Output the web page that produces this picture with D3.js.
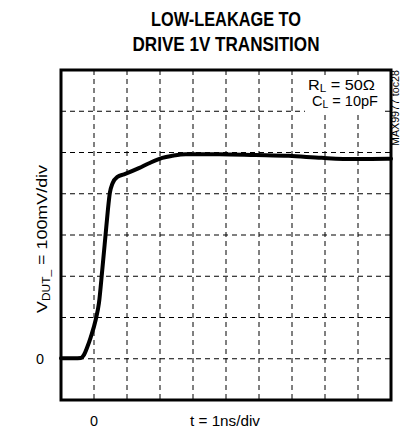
<!DOCTYPE html>
<html>
<head>
<meta charset="utf-8">
<script src="https://cdn.jsdelivr.net/npm/d3@7"></script>
<style>
  body { margin: 0; background: #fff; }
  text { font-family: "Liberation Sans Narrow", "Arial Narrow", "Liberation Sans", sans-serif; fill: #000; }
  .title { font-weight: bold; }
  .grid line { stroke: #000; stroke-width: 1; stroke-dasharray: 5,4; }
  .trace { fill: none; stroke: #000; stroke-width: 4; stroke-linejoin: round; stroke-linecap: round; }
</style>
</head>
<body>
<script>
// Scope settings: 1ns/div horizontally, 100mV/div vertically
var titleLines = ["LOW-LEAKAGE TO", "DRIVE 1V TRANSITION"];
var titleWidths = [150, 187];
var xDomain = [-1, 9];      // ns
var yDomain = [-100, 700];  // mV
var xDivs = 10, yDivs = 8;

// Trace (t in ns, v in mV)
var timeNs = [-1, -0.6, -0.4, -0.3, -0.2, -0.1, 0.05, 0.15, 0.25, 0.35, 0.42, 0.48, 0.56, 0.71, 0.91, 1.36, 1.67, 2.07, 2.37, 2.78, 3.8, 4.9, 5.9, 6.9, 7.9, 8.9, 9];
var voltMv = [1, 1, 2, 10, 29, 52, 94, 135, 215, 300, 360, 402, 425, 441, 447, 462, 474, 487, 492, 496, 496, 494, 492, 487, 484, 485, 485];

var margin = {top: 70, right: 11, bottom: 31, left: 61},
    width = 402 - margin.left - margin.right,
    height = 431 - margin.top - margin.bottom;

var xScale = d3.scaleLinear().domain(xDomain).range([0, width]);
var yScale = d3.scaleLinear().domain(yDomain).range([height, 0]);

var root = d3.select("body").append("svg")
    .attr("width", 402)
    .attr("height", 431);

// Title (condensed bold)
root.selectAll(".title")
    .data(titleLines)
  .enter().append("text")
    .attr("class", "title")
    .attr("x", margin.left + width / 2)
    .attr("y", function(d, i) { return 26 + i * 25; })
    .attr("text-anchor", "middle")
    .attr("font-size", 21)
    .attr("textLength", function(d, i) { return titleWidths[i]; })
    .attr("lengthAdjust", "spacingAndGlyphs")
    .text(function(d) { return d; });

var svg = root.append("g")
    .attr("transform", "translate(" + margin.left + "," + margin.top + ")");

// Dashed grid
var xTicks = d3.range(1, xDivs).map(function(i) { return xDomain[0] + i * (xDomain[1] - xDomain[0]) / xDivs; });
var yTicks = d3.range(1, yDivs).map(function(i) { return yDomain[0] + i * (yDomain[1] - yDomain[0]) / yDivs; });

var grid = svg.append("g").attr("class", "grid");
grid.selectAll(".v")
    .data(xTicks)
  .enter().append("line")
    .attr("x1", function(d) { return xScale(d); })
    .attr("x2", function(d) { return xScale(d); })
    .attr("y1", 0)
    .attr("y2", height);
grid.selectAll(".h")
    .data(yTicks)
  .enter().append("line")
    .attr("x1", 0)
    .attr("x2", width)
    .attr("y1", function(d) { return yScale(d); })
    .attr("y2", function(d) { return yScale(d); });

// Trace
var line = d3.line()
    .curve(d3.curveMonotoneX)
    .x(function(d) { return xScale(d[0]); })
    .y(function(d) { return yScale(d[1]); });

svg.append("path")
    .datum(d3.zip(timeNs, voltMv))
    .attr("class", "trace")
    .attr("d", line);

// Frame
svg.append("rect")
    .attr("width", width)
    .attr("height", height)
    .attr("fill", "none")
    .attr("stroke", "#000")
    .attr("stroke-width", 3);

// Load annotation, white box behind like the scope shot
function subLabel(parent, x, y, main, sub, rest, len) {
  var t = parent.append("text")
      .attr("x", x).attr("y", y)
      .attr("font-size", 14)
      .attr("textLength", len)
      .attr("lengthAdjust", "spacingAndGlyphs");
  t.append("tspan").text(main);
  t.append("tspan").attr("font-size", 10).attr("dy", 2).text(sub);
  t.append("tspan").attr("dy", -2).text(rest);
  return t;
}
svg.append("rect").attr("x", 244).attr("y", 6).attr("width", 76).attr("height", 36).attr("fill", "#fff");
subLabel(svg, 247, 20, "R", "L", " = 50\u03A9", 67);
subLabel(svg, 251, 36, "C", "L", " = 10pF", 66);

// Part number tag
root.append("text")
    .attr("transform", "translate(399," + margin.top + ") rotate(-90)")
    .attr("text-anchor", "end")
    .attr("font-size", 10)
    .attr("textLength", 76)
    .attr("lengthAdjust", "spacingAndGlyphs")
    .text("MAX9977 toc28");

// Axis labels
root.append("text")
    .attr("x", 40)
    .attr("y", margin.top + yScale(0) + 5)
    .attr("text-anchor", "middle")
    .attr("font-size", 15)
    .attr("textLength", 8)
    .attr("lengthAdjust", "spacingAndGlyphs")
    .text("0");

root.append("text")
    .attr("x", margin.left + xScale(0))
    .attr("y", 426)
    .attr("text-anchor", "middle")
    .attr("font-size", 15)
    .attr("textLength", 8)
    .attr("lengthAdjust", "spacingAndGlyphs")
    .text("0");

root.append("text")
    .attr("x", 225)
    .attr("y", 426)
    .attr("text-anchor", "middle")
    .attr("font-size", 15)
    .attr("textLength", 70)
    .attr("lengthAdjust", "spacingAndGlyphs")
    .text("t = 1ns/div");

var yl = root.append("text")
    .attr("transform", "translate(47,239) rotate(-90)")
    .attr("text-anchor", "middle")
    .attr("font-size", 15)
    .attr("textLength", 148)
    .attr("lengthAdjust", "spacingAndGlyphs");
yl.append("tspan").text("V");
yl.append("tspan").attr("font-size", 10).attr("dy", 3).text("DUT_");
yl.append("tspan").attr("dy", -3).text(" = 100mV/div");
</script>
</body>
</html>
